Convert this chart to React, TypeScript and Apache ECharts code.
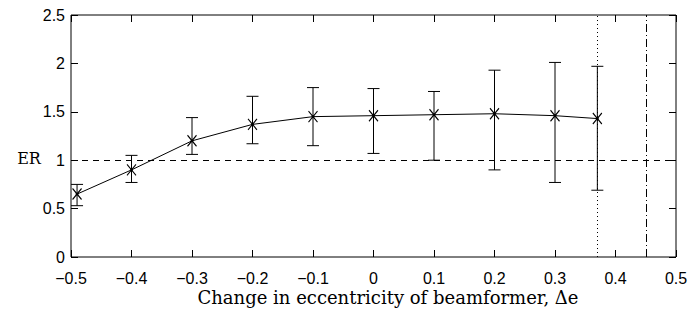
import React, { useEffect, useRef } from "react";
import * as echarts from "echarts";

const deltaE = [-0.49, -0.4, -0.3, -0.2, -0.1, 0, 0.1, 0.2, 0.3, 0.37];
const erMean = [0.65, 0.9, 1.2, 1.37, 1.45, 1.46, 1.47, 1.48, 1.46, 1.43];
const erLow = [0.53, 0.77, 1.06, 1.17, 1.15, 1.07, 1.0, 0.9, 0.77, 0.69];
const erHigh = [0.75, 1.05, 1.44, 1.66, 1.75, 1.74, 1.71, 1.93, 2.01, 1.97];
const refER = 1;
const dottedX = 0.37;
const dashDotX = 0.45;

const tickFont = "Liberation Sans";
const serifFont = "DejaVu Serif";

const fmt = (v: number) => {
  const r = Math.round(v * 10) / 10;
  return String(r).replace("-", "\u2212");
};

export default function App() {
  const ref = useRef<HTMLDivElement>(null);
  useEffect(() => {
    if (!ref.current) return;
    const chart = echarts.init(ref.current, null, { renderer: "svg" });
    const axisCommon = {
      type: "value" as const,
      axisLine: { show: false, onZero: false },
      splitLine: { show: false },
      axisTick: { show: true, inside: true, length: 7, lineStyle: { color: "#000", width: 1 } },
    };
    chart.setOption({
      animation: false,
      backgroundColor: "#fff",
      grid: {
        left: 71,
        right: 21,
        top: 15,
        bottom: 55,
        show: true,
        borderColor: "#000",
        borderWidth: 1,
        backgroundColor: "transparent",
      },
      xAxis: [
        {
          ...axisCommon,
          min: -0.5,
          max: 0.5,
          interval: 0.1,
          position: "bottom",
          axisLabel: {
            color: "#000",
            fontFamily: tickFont,
            fontSize: 16,
            margin: 13,
            formatter: fmt,
          },
        },
        {
          ...axisCommon,
          min: -0.5,
          max: 0.5,
          interval: 0.1,
          position: "top",
          axisLabel: { show: false },
        },
      ],
      yAxis: [
        {
          ...axisCommon,
          min: 0,
          max: 2.5,
          interval: 0.5,
          position: "left",
          axisLabel: {
            color: "#000",
            fontFamily: tickFont,
            fontSize: 16,
            margin: 6,
            formatter: fmt,
          },
        },
        {
          ...axisCommon,
          min: 0,
          max: 2.5,
          interval: 0.5,
          position: "right",
          axisLabel: { show: false },
        },
      ],
      graphic: [
        {
          type: "text",
          x: 388,
          y: 297,
          style: {
            text: "Change in eccentricity of beamformer, \u0394e",
            fontFamily: serifFont,
            fontSize: 18,
            fill: "#000",
            align: "center",
            verticalAlign: "middle",
          },
        },
        {
          type: "text",
          x: 29,
          y: 158,
          style: {
            text: "ER",
            fontFamily: serifFont,
            fontSize: 16,
            fill: "#000",
            align: "center",
            verticalAlign: "middle",
          },
        },
      ],
      series: [
        {
          type: "line",
          data: deltaE.map((x, i) => [x, erMean[i]]),
          lineStyle: { color: "#000", width: 1 },
          symbol: "path://M0,0L10,12M10,0L0,12M5,0L5,0",
          symbolSize: [9, 11],
          itemStyle: { color: "transparent", borderColor: "#000", borderWidth: 1.2 },
          z: 5,
          markLine: {
            silent: true,
            symbol: "none",
            label: { show: false },
            data: [
              { yAxis: refER, lineStyle: { color: "#000", width: 1, type: [6, 5] } },
              { xAxis: dottedX, lineStyle: { color: "#000", width: 1, type: [1, 3] } },
              { xAxis: dashDotX, lineStyle: { color: "#000", width: 1, type: [8, 3, 1, 3] } },
            ],
          },
        },
        {
          type: "scatter",
          data: deltaE.map((x, i) => [x, erMean[i]]),
          symbol: "circle",
          symbolSize: 3,
          itemStyle: { color: "#000" },
          z: 6,
        },
        {
          type: "custom",
          data: deltaE.map((x, i) => [x, erLow[i], erHigh[i]]),
          encode: { x: 0, y: [1, 2] },
          z: 4,
          renderItem: (params: any, api: any) => {
            const x = api.value(0);
            const lo = api.coord([x, api.value(1)]);
            const hi = api.coord([x, api.value(2)]);
            const w = 6;
            const st = { stroke: "#000", lineWidth: 1 };
            return {
              type: "group",
              children: [
                { type: "line", shape: { x1: lo[0], y1: lo[1], x2: hi[0], y2: hi[1] }, style: st },
                { type: "line", shape: { x1: lo[0] - w, y1: lo[1], x2: lo[0] + w, y2: lo[1] }, style: st },
                { type: "line", shape: { x1: hi[0] - w, y1: hi[1], x2: hi[0] + w, y2: hi[1] }, style: st },
              ],
            };
          },
        },
      ],
    });
    return () => chart.dispose();
  }, []);
  return (
    <div
      ref={ref}
      style={{ position: "fixed", left: 0, top: 0, width: 697, height: 312, background: "#fff" }}
    />
  );
}
